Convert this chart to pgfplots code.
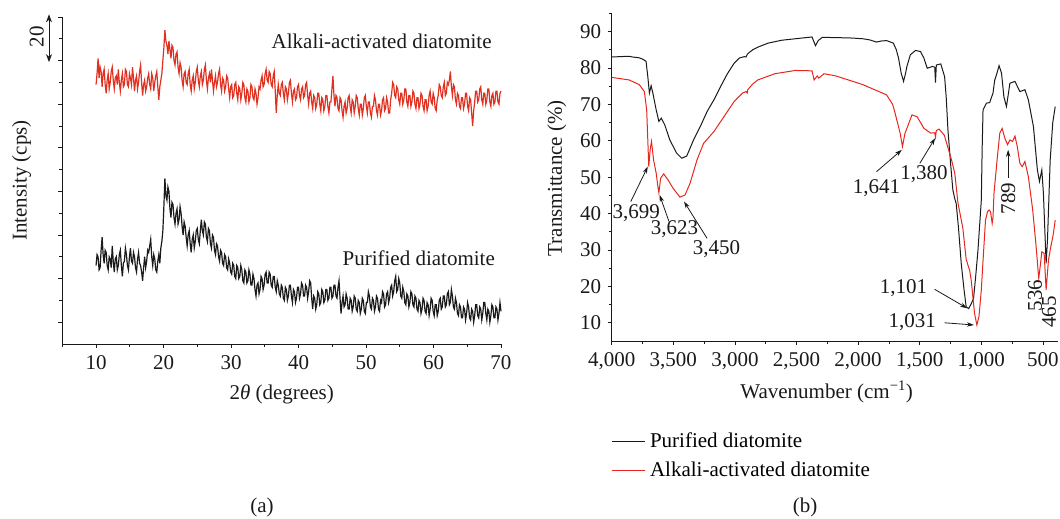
\documentclass[border=0pt]{standalone}
\usepackage{fontspec}
\setmainfont{Liberation Serif}
\usepackage{pgfplots}
\usepackage{pgfplotstable}
\pgfplotsset{compat=1.18}
\usetikzlibrary{arrows.meta}

\definecolor{xrdred}{HTML}{E03020}
\definecolor{irred}{HTML}{E8261E}
\definecolor{ink}{HTML}{1A1A1A}
\newcommand{\fs}{\fontsize{21}{25}\selectfont}

% XRD, alkali-activated (offset upwards)
\pgfplotstableread{
x y
10.0 119
10.15 124
10.3 131
10.45 122
10.6 127
10.75 125
10.9 118
11.05 124
11.2 126
11.35 119
11.5 115
11.65 121
11.8 124
11.95 117
12.1 120
12.25 125
12.4 127
12.55 121
12.7 117
12.85 122
13.0 123
13.15 119
13.3 126
13.45 120
13.6 116
13.75 121
13.9 124
14.05 118
14.2 119
14.35 126
14.5 125
14.65 119
14.8 118
14.95 124
15.1 122
15.25 119
15.4 127
15.55 122
15.7 116
15.85 121
16.0 123
16.15 117
16.3 120
16.45 125
16.6 128
16.75 120
16.9 114
17.05 119
17.2 121
17.35 116
17.5 118
17.65 122
17.8 124
17.95 119
18.1 117
18.25 124
18.4 122
18.55 116
18.7 120
18.85 123
19.0 125
19.15 118
19.3 112
19.45 118
19.6 121
19.75 124
19.9 130
20.05 136
20.2 144
20.35 139
20.5 137
20.65 133
20.8 139
20.95 135
21.1 131
21.25 137
21.4 136
21.55 130
21.7 128
21.85 133
22.0 134
22.15 127
22.3 124
22.45 129
22.6 127
22.75 121
22.9 118
23.05 124
23.2 125
23.35 120
23.5 119
23.65 124
23.8 126
23.95 119
24.1 116
24.25 121
24.4 123
24.55 117
24.7 120
24.85 125
25.0 127
25.15 121
25.3 118
25.45 123
25.6 125
25.75 119
25.9 121
26.05 126
26.2 128
26.35 121
26.5 117
26.65 122
26.8 124
26.95 120
27.1 126
27.25 121
27.4 116
27.55 120
27.7 123
27.85 118
28.0 120
28.15 124
28.3 126
28.45 119
28.6 116
28.75 122
28.9 121
29.05 116
29.2 118
29.35 123
29.5 122
29.65 117
29.8 113
29.95 118
30.1 119
30.25 113
30.4 114
30.55 119
30.7 120
30.85 115
31.0 112
31.15 118
31.3 117
31.45 112
31.6 115
31.75 120
31.9 119
32.05 113
32.2 111
32.35 117
32.5 116
32.65 111
32.8 113
32.95 119
33.1 118
33.25 113
33.4 112
33.55 117
33.7 115
33.85 110
34.0 113
34.15 118
34.3 117
34.45 121
34.6 123
34.75 118
34.9 119
35.05 124
35.2 126
35.35 121
35.5 120
35.65 125
35.8 124
35.95 119
36.1 118
36.25 123
36.4 125
36.55 116
36.7 106
36.85 114
37.0 119
37.15 115
37.3 114
37.45 119
37.6 120
37.75 115
37.9 112
38.05 118
38.2 117
38.35 112
38.5 115
38.65 120
38.8 121
38.95 115
39.1 111
39.25 116
39.4 117
39.55 112
39.7 113
39.85 118
40.0 119
40.15 114
40.3 112
40.45 117
40.6 118
40.75 113
40.9 114
41.05 119
41.2 120
41.35 114
41.5 110
41.65 115
41.8 116
41.95 111
42.1 108
42.25 114
42.4 113
42.55 108
42.7 110
42.85 115
43.0 115
43.15 110
43.3 107
43.45 113
43.6 112
43.75 107
43.9 109
44.05 114
44.2 114
44.35 109
44.5 106
44.65 111
44.8 111
44.95 117
45.1 123
45.25 114
45.4 109
45.55 114
45.7 113
45.85 108
46.0 107
46.15 113
46.3 112
46.45 107
46.6 104
46.75 109
46.9 111
47.05 106
47.2 108
47.35 113
47.5 114
47.65 109
47.8 106
47.95 112
48.1 111
48.25 106
48.4 109
48.55 114
48.7 113
48.85 108
49.0 105
49.15 110
49.3 110
49.45 105
49.6 108
49.75 113
49.9 114
50.05 109
50.2 106
50.35 111
50.5 111
50.65 106
50.8 104
50.95 109
51.1 109
51.25 114
51.4 112
51.55 107
51.7 105
51.85 110
52.0 110
52.15 105
52.3 107
52.45 112
52.6 113
52.75 107
52.9 108
53.05 113
53.2 111
53.35 106
53.5 106
53.65 112
53.8 115
53.95 120
54.1 119
54.25 114
54.4 113
54.55 118
54.7 117
54.85 112
55.0 110
55.15 115
55.3 115
55.45 110
55.6 112
55.75 117
55.9 117
56.05 111
56.2 109
56.35 114
56.5 114
56.65 109
56.8 111
56.95 116
57.1 115
57.25 110
57.4 108
57.55 113
57.7 113
57.85 108
58.0 110
58.15 115
58.3 114
58.45 109
58.6 107
58.75 112
58.9 112
59.05 107
59.2 109
59.35 114
59.5 116
59.65 111
59.8 110
59.95 115
60.1 113
60.25 108
60.4 107
60.55 112
60.7 114
60.85 119
61.0 118
61.15 114
61.3 113
61.45 118
61.6 120
61.75 114
61.9 115
62.05 120
62.2 119
62.35 121
62.5 125
62.65 118
62.8 114
62.95 119
63.1 118
63.25 112
63.4 110
63.55 115
63.7 114
63.85 109
64.0 108
64.15 113
64.3 113
64.45 108
64.6 110
64.75 115
64.9 115
65.05 109
65.2 107
65.35 113
65.5 112
65.65 106
65.8 100
65.95 107
66.1 111
66.25 116
66.4 116
66.55 111
66.7 112
66.85 117
67.0 118
67.15 112
67.3 110
67.45 115
67.6 115
67.75 110
67.9 112
68.05 117
68.2 117
68.35 111
68.5 109
68.65 114
68.8 115
68.95 110
69.1 111
69.25 116
69.4 116
69.55 111
69.7 110
69.85 115
70.0 116
}\xrdalkali

% XRD, purified
\pgfplotstableread{
x y
10.0 36
10.15 41
10.3 40
10.45 34
10.6 35
10.75 43
10.9 49
11.05 41
11.2 37
11.35 43
11.5 42
11.65 36
11.8 34
11.95 40
12.1 39
12.25 35
12.4 45
12.55 38
12.7 33
12.85 39
13.0 40
13.15 34
13.3 36
13.45 41
13.6 43
13.75 36
13.9 31
14.05 37
14.2 38
14.35 44
14.5 41
14.65 36
14.8 34
14.95 40
15.1 44
15.25 38
15.4 37
15.55 42
15.7 40
15.85 35
16.0 33
16.15 39
16.3 42
16.45 37
16.6 36
16.75 33
16.9 29
17.05 35
17.2 40
17.35 35
17.5 38
17.65 43
17.8 42
17.95 45
18.1 48
18.25 40
18.4 36
18.55 41
18.7 39
18.85 34
19.0 33
19.15 38
19.3 41
19.45 37
19.6 44
19.75 47
19.9 52
20.05 63
20.2 76
20.35 68
20.5 66
20.65 72
20.8 70
20.95 62
21.1 58
21.25 65
21.4 64
21.55 58
21.7 55
21.85 60
22.0 62
22.15 55
22.3 57
22.45 63
22.6 60
22.75 54
22.9 50
23.05 56
23.2 54
23.35 49
23.5 45
23.65 50
23.8 52
23.95 46
24.1 42
24.25 48
24.4 50
24.55 44
24.7 47
24.85 52
25.0 53
25.15 48
25.3 46
25.45 52
25.6 57
25.75 52
25.9 50
26.05 56
26.2 55
26.35 49
26.5 47
26.65 53
26.8 52
26.95 46
27.1 44
27.25 50
27.4 49
27.55 43
27.7 41
27.85 46
28.0 45
28.15 40
28.3 38
28.45 43
28.6 42
28.75 37
28.9 36
29.05 41
29.2 40
29.35 35
29.5 34
29.65 39
29.8 37
29.95 33
30.1 32
30.25 37
30.4 36
30.55 31
30.7 30
30.85 36
31.0 35
31.15 30
31.3 31
31.45 36
31.6 34
31.75 29
31.9 28
32.05 34
32.2 33
32.35 28
32.5 29
32.65 34
32.8 32
32.95 27
33.1 27
33.25 32
33.4 30
33.55 25
33.7 22
33.85 27
34.0 28
34.15 23
34.3 25
34.45 31
34.6 30
34.75 25
34.9 27
35.05 32
35.2 33
35.35 28
35.5 28
35.65 33
35.8 32
35.95 27
36.1 26
36.25 31
36.4 31
36.55 26
36.7 24
36.85 29
37.0 27
37.15 23
37.3 22
37.45 27
37.6 26
37.75 21
37.9 20
38.05 26
38.2 25
38.35 20
38.5 22
38.65 27
38.8 27
38.95 22
39.1 19
39.25 25
39.4 24
39.55 19
39.7 21
39.85 26
40.0 26
40.15 21
40.3 23
40.45 28
40.6 27
40.75 22
40.9 22
41.05 27
41.2 26
41.35 21
41.5 24
41.65 29
41.8 28
41.95 21
42.1 16
42.25 22
42.4 21
42.55 16
42.7 18
42.85 24
43.0 23
43.15 18
43.3 19
43.45 25
43.6 24
43.75 19
43.9 20
44.05 25
44.2 25
44.35 20
44.5 21
44.65 26
44.8 26
44.95 21
45.1 22
45.25 27
45.4 27
45.55 22
45.7 21
45.85 26
46.0 29
46.15 21
46.3 14
46.45 19
46.6 22
46.75 17
46.9 18
47.05 23
47.2 21
47.35 16
47.5 16
47.65 21
47.8 20
47.95 15
48.1 17
48.25 22
48.4 21
48.55 16
48.7 15
48.85 20
49.0 19
49.15 14
49.3 16
49.45 21
49.6 20
49.75 15
49.9 14
50.05 19
50.2 19
50.35 24
50.5 22
50.65 17
50.8 16
50.95 21
51.1 20
51.25 15
51.4 17
51.55 22
51.7 21
51.85 16
52.0 15
52.15 20
52.3 19
52.45 24
52.6 23
52.75 17
52.9 18
53.05 23
53.2 24
53.35 19
53.5 21
53.65 26
53.8 27
53.95 22
54.1 24
54.25 29
54.4 31
54.55 24
54.7 25
54.85 30
55.0 28
55.15 22
55.3 21
55.45 26
55.6 24
55.75 19
55.9 18
56.05 23
56.2 22
56.35 17
56.5 19
56.65 24
56.8 23
56.95 18
57.1 17
57.25 22
57.4 21
57.55 16
57.7 15
57.85 20
58.0 19
58.15 14
58.3 16
58.45 21
58.6 20
58.75 15
58.9 14
59.05 19
59.2 18
59.35 13
59.5 16
59.65 21
59.8 20
59.95 15
60.1 13
60.25 18
60.4 18
60.55 13
60.7 15
60.85 20
61.0 21
61.15 16
61.3 17
61.45 22
61.6 22
61.75 17
61.9 18
62.05 23
62.2 24
62.35 18
62.5 19
62.65 25
62.8 22
62.95 17
63.1 16
63.25 21
63.4 19
63.55 14
63.7 13
63.85 18
64.0 17
64.15 12
64.3 12
64.45 17
64.6 16
64.75 11
64.9 14
65.05 19
65.2 17
65.35 12
65.5 11
65.65 16
65.8 15
65.95 10
66.1 13
66.25 18
66.4 18
66.55 13
66.7 12
66.85 17
67.0 16
67.15 11
67.3 14
67.45 19
67.6 19
67.75 14
67.9 11
68.05 16
68.2 15
68.35 10
68.5 13
68.65 18
68.8 17
68.95 12
69.1 12
69.25 17
69.4 16
69.55 11
69.7 14
69.85 19
70.0 15
}\xrdpure

% FTIR, purified
\pgfplotstableread{
x y
4000 83.0
3930 83.1
3859 83.2
3831 83.0
3780 82.8
3748 82.4
3721 81.8
3707 77.6
3694 73.1
3680 75.1
3666 73.1
3639 68.5
3617 65.3
3597 66.2
3570 64.4
3528 60.2
3473 56.6
3432 55.2
3391 55.8
3336 60.2
3281 63.9
3226 68.0
3171 71.2
3116 74.9
3061 78.4
3006 81.3
2965 82.7
2924 83.1
2910 83.0
2896 83.9
2855 85.0
2814 85.7
2731 86.8
2621 87.6
2484 88.1
2374 88.5
2360 87.3
2346 86.1
2324 87.5
2291 88.4
2150 88.3
2044 88.2
1960 88.0
1906 87.7
1851 87.1
1810 87.4
1769 87.5
1714 86.8
1690 85.0
1672 82.7
1650 78.5
1631 76.3
1615 78.5
1604 80.4
1576 83.6
1535 84.8
1494 84.5
1466 82.7
1439 79.9
1397 80.4
1378 80.2
1372 76.0
1365 80.8
1329 81.1
1298 77.6
1285 72.0
1271 63.0
1250 54.0
1231 46.5
1215 44.0
1204 42.8
1185 36.0
1163 26.3
1140 19.0
1123 14.4
1103 13.9
1085 15.0
1063 16.7
1045 23.0
1027 30.0
1000 43.7
993 58.0
986 68.5
959 70.3
932 70.5
905 73.1
891 76.7
877 78.1
856 80.6
836 78.6
817 72.1
796 69.4
780 73.0
768 75.8
727 76.3
687 73.5
646 74.0
618 71.2
577 63.9
545 52.0
528 48.8
509 52.0
496 45.6
474 26.3
463 32.7
441 54.7
420 65.0
400 69.4
}\irpure

% FTIR, alkali-activated
\pgfplotstableread{
x y
4000 77.4
3859 76.7
3776 75.4
3735 73.5
3716 68.5
3707 60.2
3699 52.9
3688 57.5
3677 59.8
3660 54.7
3639 51.1
3625 47.4
3617 45.7
3603 49.7
3578 50.9
3542 49.2
3501 46.9
3446 44.5
3405 45.1
3364 48.3
3308 54.7
3254 59.3
3171 62.5
3089 66.6
3006 70.8
2938 73.1
2910 73.5
2900 73.1
2896 74.0
2855 75.6
2814 76.7
2676 78.4
2511 79.3
2374 79.2
2357 76.7
2332 77.8
2319 77.2
2277 78.4
2181 77.8
1961 75.4
1769 72.6
1720 70.0
1700 67.6
1659 62.1
1640 58.4
1620 62.0
1604 63.4
1563 67.1
1521 66.6
1466 63.4
1411 62.1
1378 62.2
1372 61.0
1365 62.8
1343 63.2
1300 61.5
1270 58.0
1240 54.5
1215 51.0
1190 43.0
1150 36.0
1123 27.5
1109 25.9
1095 24.5
1082 21.7
1055 12.6
1036 9.4
1019 11.7
1000 19.0
987 26.5
966 38.2
950 40.5
937 41.0
925 40.5
912 37.3
905 39.0
897 45.6
872 54.7
850 62.1
831 63.4
809 60.7
787 58.9
768 60.2
746 59.8
727 61.3
708 58.4
687 53.8
668 52.9
646 54.3
618 50.1
583 41.0
555 30.9
534 22.2
520 26.0
509 29.5
490 29.1
474 19.0
455 27.2
436 30.9
419 33.7
400 38.2
}\iralkali

\begin{document}
\begin{tikzpicture}
\useasboundingbox (0pt,0pt) rectangle (1060pt,519pt);

% (a) XRD
\begin{axis}[
  at={(62.3pt,175pt)}, anchor=south west, scale only axis,
  width=438.7pt, height=327pt,
  xmin=5, xmax=70, ymin=0, ymax=150,
  axis lines=left, axis line style={-, line width=0.9pt, ink},
  xtick={10,20,...,70}, minor xtick={5,15,...,65},
  ytick={10,30,...,150}, minor ytick={20,40,...,140}, yticklabels={},
  tick align=outside, major tick length=4pt, minor tick length=3pt,
  every tick/.style={line width=0.8pt, ink},
  tick label style={font=\fs, ink}, /pgf/number format/assume math mode=true,
  xticklabel style={yshift=-4pt},
  xlabel={2\textit{θ} (degrees)}, ylabel={Intensity (cps)},
  label style={font=\fs, ink},
  xlabel style={at={(axis description cs:0.5,-0.153)}, anchor=center},
  ylabel style={at={(axis description cs:-0.0925,0.5)}, anchor=center},
  clip=false,
]
\addplot[xrdred, line width=1.2pt] table {\xrdalkali};
\addplot[ink, line width=1.2pt] table {\xrdpure};
\draw[{Stealth[length=8pt,width=6pt]}-{Stealth[length=8pt,width=6pt]}, line width=0.9pt, ink]
  (axis cs:3.03,129.3) -- (axis cs:3.03,151.2);
\node[rotate=90, font=\fs, inner sep=0pt, ink] at (axis cs:1.2,141) {20};
\node[anchor=west, font=\fs, inner sep=0pt, ink] at (axis cs:36.0,138.7) {Alkali-activated diatomite};
\node[anchor=west, font=\fs, inner sep=0pt, ink] at (axis cs:46.5,39.4) {Purified diatomite};
\end{axis}

% (b) FTIR
\begin{axis}[
  at={(611.7pt,178pt)}, anchor=south west, scale only axis,
  width=446pt, height=327.7pt,
  x dir=reverse, xmin=380, xmax=4000, ymin=5, ymax=95,
  axis lines=left, axis line style={-, line width=0.9pt, ink},
  xtick={500,1000,...,4000}, minor xtick={750,1250,...,3750},
  ytick={10,20,...,90}, minor ytick={15,25,...,95},
  tick align=outside, major tick length=4pt, minor tick length=3pt,
  every tick/.style={line width=0.8pt, ink},
  tick label style={font=\fs, ink},
  /pgf/number format/assume math mode=true,
  /pgf/number format/1000 sep={,},
  xticklabel style={yshift=-4pt}, yticklabel style={xshift=-3pt},
  xlabel={Wavenumber (cm\textsuperscript{−1})}, ylabel={Transmittance (\%)},
  label style={font=\fs, ink},
  xlabel style={at={(axis description cs:0.482,-0.155)}, anchor=center},
  ylabel style={at={(axis description cs:-0.1233,0.497)}, anchor=center},
  legend style={at={(axis description cs:-0.002,-0.280)}, anchor=north west,
    draw=none, fill=none, font=\fs, row sep=13pt, inner sep=0pt,
    nodes={inner xsep=5pt, inner ysep=0pt}, cells={anchor=west}},
  legend image code/.code={\draw[#1] (0pt,0pt) -- (33pt,0pt);},
  clip=false,
]
\addplot[ink, line width=1pt] table {\irpure};
\addplot[irred, line width=1pt] table {\iralkali};
\legend{Purified diatomite, Alkali-activated diatomite}

\tikzset{ann/.style={-{Stealth[length=7pt,width=4.5pt]}, line width=0.8pt, ink}}
\draw[ann] (axis cs:3845,43.3) -- (axis cs:3707,52.9);
\node[font=\fs, inner sep=0pt, ink] at (axis cs:3800,40.0) {3,699};
\draw[ann] (axis cs:3535,37.8) -- (axis cs:3611,45.1);
\node[font=\fs, inner sep=0pt, ink] at (axis cs:3490,35.6) {3,623};
\draw[ann] (axis cs:3226,33.2) -- (axis cs:3413,43.3);
\node[font=\fs, inner sep=0pt, ink] at (axis cs:3149,30.2) {3,450};
\draw[ann] (axis cs:1851,51.5) -- (axis cs:1645,57.5);
\node[font=\fs, inner sep=0pt, ink] at (axis cs:1851,46.9) {1,641};
\draw[ann] (axis cs:1499,53.8) -- (axis cs:1375,60.7);
\node[font=\fs, inner sep=0pt, ink] at (axis cs:1466,50.8) {1,380};
\draw[ann] (axis cs:1379,19.2) -- (axis cs:1115,14.0);
\node[font=\fs, inner sep=0pt, ink] at (axis cs:1632,19.5) {1,101};
\draw[ann] (axis cs:1298,10.0) -- (axis cs:1060,9.4);
\node[font=\fs, inner sep=0pt, ink] at (axis cs:1561,10.3) {1,031};
\draw[ann] (axis cs:782,49.7) -- (axis cs:782,57.5);
\node[rotate=90, font=\fs, inner sep=0pt, ink] at (axis cs:782,44.2) {789};
\node[rotate=90, font=\fs, inner sep=0pt, ink] at (axis cs:565,17.5) {536};
\node[rotate=90, font=\fs, inner sep=0pt, ink] at (axis cs:450,13.0) {465};
\end{axis}

\node[font=\fs, ink] at (262pt,12pt) {(a)};
\node[font=\fs, ink] at (805pt,12pt) {(b)};
\end{tikzpicture}
\end{document}
